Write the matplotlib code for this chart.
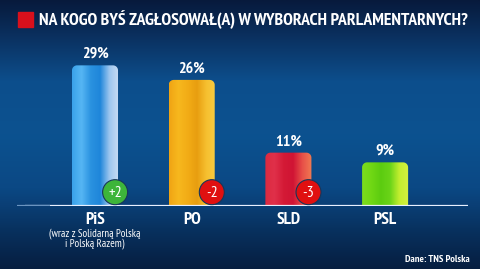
import numpy as np
import matplotlib
matplotlib.use("Agg")
import matplotlib.pyplot as plt
from matplotlib.colors import LinearSegmentedColormap
from matplotlib.patches import PathPatch, Ellipse, Rectangle
from matplotlib.path import Path

# ---- data ----
categories = ["PiS", "PO", "SLD", "PSL"]
sublabels = ["(wraz z Solidarną Polską\ni Polską Razem)", "", "", ""]
values = [29, 26, 11, 9]
changes = ["+2", "-2", "-3", None]
title = "NA KOGO BYŚ ZAGŁOSOWAŁ(A) W WYBORACH PARLAMENTARNYCH?"
source = "Dane: TNS Polska"

bar_grads = [
    ["#3aa2ea", "#56b6f4", "#2a92e0", "#1f86da", "#9cc6ef", "#c8dcf4"],
    ["#f0a414", "#f7b81e", "#f2ac16", "#e89e10", "#f6c030", "#f8cc40"],
    ["#dc2a40", "#e0304a", "#d41a36", "#d01434", "#e85048", "#f07a52"],
    ["#7cdc1e", "#70d814", "#5ccc10", "#6ad418", "#c4ee30", "#d4f040"],
]
badge_colors = {"+": "#3db53a", "-": "#e01010"}
FONT = ["PT Sans Narrow", "DejaVu Sans"]

W, H = 480, 269
fig = plt.figure(figsize=(W / 100, H / 100), dpi=100)

# background gradient
bg = fig.add_axes([0, 0, 1, 1])
bg.set_axis_off()
bg_cmap = LinearSegmentedColormap.from_list(
    "bg",
    [(0.0, "#071a3c"), (0.12, "#0a2e5c"), (0.3, "#0d4e8c"), (0.5, "#0c5290"),
     (0.7, "#0b4884"), (0.77, "#0a3e74"), (0.85, "#083260"), (1.0, "#061e40")])
grad = np.linspace(0, 1, 256).reshape(-1, 1)
bg.imshow(grad, aspect="auto", cmap=bg_cmap, extent=[0, 1, 0, 1], origin="upper")
bg.set_xlim(0, 1)
bg.set_ylim(0, 1)

# title
bg.add_patch(Rectangle((18 / W, 1 - 27 / H), 15 / W, 15 / H,
                       color="#d8101c", transform=bg.transAxes))
bg.text(39 / W, 1 - 19.5 / H, title, color="white", fontsize=12.7,
        fontweight="bold", family=FONT,
        va="center", ha="left", transform=bg.transAxes)

# bar axes
base_px = H - 206
px_per = 4.85
ymax = 35
ax = fig.add_axes([0, base_px / H, 1, ymax * px_per / H])
ax.set_axis_off()
step = 96.7
ax.set_xlim(-95 / step, (W - 95) / step)
ax.set_ylim(0, ymax)
bw = 0.476
x = np.arange(len(categories))


def top_rounded_path(x0, y0, w, h, rpx=5):
    rx = rpx / step
    ry = rpx / px_per
    t = np.linspace(0, np.pi / 2, 10)
    verts = [(x0, y0), (x0 + w, y0)]
    for a in t:
        verts.append((x0 + w - rx + rx * np.cos(a), y0 + h - ry + ry * np.sin(a)))
    for a in t:
        verts.append((x0 + rx - rx * np.sin(a), y0 + h - ry + ry * np.cos(a)))
    verts.append((x0, y0))
    codes = [Path.MOVETO] + [Path.LINETO] * (len(verts) - 2) + [Path.CLOSEPOLY]
    return Path(verts, codes)


bars = ax.bar(x, values, width=bw, color="none", edgecolor="none")
for i, b in enumerate(bars):
    x0, y0 = b.get_x(), b.get_y()
    w, h = b.get_width(), b.get_height()
    patch = PathPatch(top_rounded_path(x0, y0, w, h), facecolor="none",
                      edgecolor="none")
    ax.add_patch(patch)
    cm = LinearSegmentedColormap.from_list("b%d" % i, bar_grads[i])
    g = np.linspace(0, 1, 128).reshape(1, -1)
    im = ax.imshow(g, aspect="auto", cmap=cm, extent=[x0, x0 + w, y0, y0 + h],
                   zorder=2, interpolation="bilinear")
    im.set_clip_path(patch)
    ax.text(x[i], values[i] + 0.9, f"{values[i]}%", ha="center", va="bottom",
            color="white", fontsize=11.5, fontweight="bold",
            family=FONT, zorder=5)
    ax.text(x[i], -1.3, categories[i], ha="center", va="top", color="white",
            fontsize=12.5, fontweight="bold", family=FONT, clip_on=False)
    if sublabels[i]:
        ax.text(x[i], -4.5, sublabels[i], ha="center", va="top", color="white",
                fontsize=7.8, family=FONT, linespacing=0.9, clip_on=False)
    if changes[i]:
        cx = x0 + w - 0.03
        cy = 2.85
        c = badge_colors[changes[i][0]]
        ell = Ellipse((cx, cy), 25 / step, 25 / px_per,
                      facecolor=c, edgecolor="#17365a", linewidth=0.8, zorder=4)
        ax.add_patch(ell)
        ax.text(cx, cy - 0.15, changes[i], ha="center", va="center", color="white",
                fontsize=11.5, family=FONT, zorder=5)

# baseline
ax.plot([-70 / step, (468 - 95) / step], [0, 0], color="#e8f0ff", lw=1.6,
        zorder=3, solid_capstyle="butt")
ax.plot([-78 / step, -45 / step], [0, 0], color="#6a94c0", lw=1.6, zorder=3,
        solid_capstyle="butt")

bg.text(470 / W, 1 - 259 / H, source, color="white", fontsize=7.5,
        family=FONT, fontweight="bold", ha="right",
        va="center", transform=bg.transAxes)

fig.savefig("out.png", dpi=100)
